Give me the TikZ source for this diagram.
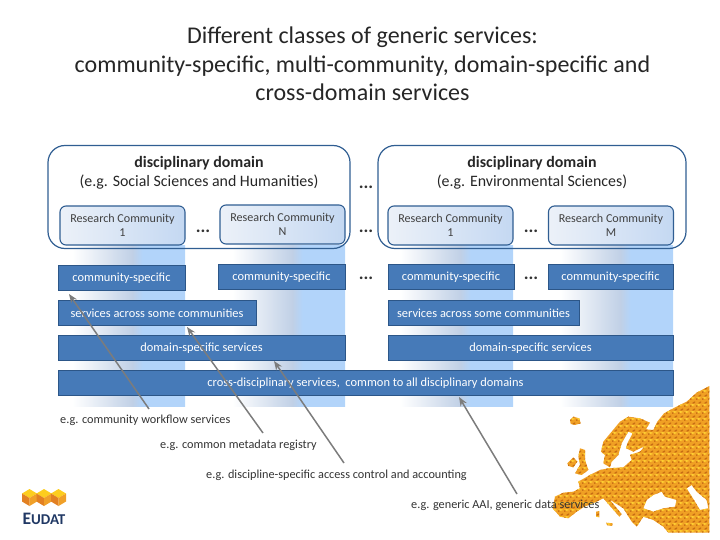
\documentclass[tikz,border=0pt]{standalone}
\usepackage{fontspec}
\setmainfont{Carlito}
\usetikzlibrary{arrows.meta,patterns}
\definecolor{barBlue}{RGB}{70,122,184}
\definecolor{barEdge}{RGB}{44,86,136}
\definecolor{frameBlue}{RGB}{48,94,146}
\definecolor{colGray}{RGB}{192,208,230}
\definecolor{colLight}{RGB}{178,212,250}
\definecolor{rcLeft}{RGB}{236,241,248}
\definecolor{rcRight}{RGB}{196,216,242}
\definecolor{arrowGray}{RGB}{124,124,124}
\definecolor{textGray}{RGB}{64,64,64}
\definecolor{mapOrange}{RGB}{240,160,36}
\definecolor{mapDark}{RGB}{200,110,20}
\definecolor{mapLight}{RGB}{254,205,50}
\definecolor{logoNavy}{RGB}{32,56,100}
\definecolor{cubeTop}{RGB}{253,205,30}
\definecolor{cubeLeft}{RGB}{226,128,34}
\definecolor{cubeRight}{RGB}{240,160,40}
\pgfdeclarehorizontalshading{colfade}{100bp}{color(0bp)=(white); color(30bp)=(white);
  color(54bp)=(colGray); color(58bp)=(colLight); color(100bp)=(colLight)}
\pgfdeclarepatternformonly{cubeshade}{\pgfqpoint{0pt}{0pt}}{\pgfqpoint{6pt}{7pt}}{\pgfqpoint{6pt}{7pt}}{
  \pgfpathmoveto{\pgfqpoint{0pt}{0pt}}\pgfpathlineto{\pgfqpoint{3pt}{1.2pt}}
  \pgfpathlineto{\pgfqpoint{3pt}{3pt}}\pgfpathlineto{\pgfqpoint{0pt}{1.8pt}}\pgfpathclose
  \pgfpathmoveto{\pgfqpoint{3pt}{3.5pt}}\pgfpathlineto{\pgfqpoint{6pt}{4.7pt}}
  \pgfpathlineto{\pgfqpoint{6pt}{6.5pt}}\pgfpathlineto{\pgfqpoint{3pt}{5.3pt}}\pgfpathclose
  \pgfusepath{fill}}
\pgfdeclarepatternformonly{cubelit}{\pgfqpoint{0pt}{0pt}}{\pgfqpoint{6pt}{7pt}}{\pgfqpoint{6pt}{7pt}}{
  \pgfpathmoveto{\pgfqpoint{3pt}{1.2pt}}\pgfpathlineto{\pgfqpoint{6pt}{2.4pt}}
  \pgfpathlineto{\pgfqpoint{3pt}{3.4pt}}\pgfpathlineto{\pgfqpoint{0pt}{2.4pt}}\pgfpathclose
  \pgfusepath{fill}}

\begin{document}
\begin{tikzpicture}[
  x=1pt, y=-1pt,
  titletext/.style={align=center, text=black!85, font=\fontsize{24}{28.5}\selectfont},
  domainbox/.style={rounded corners=17pt, draw=frameBlue, line width=1.2pt, fill=none, inner sep=0pt},
  domaintext/.style={align=center, text=black!85, font=\fontsize{15.9}{18.5}\selectfont},
  rcbox/.style={rounded corners=6pt, draw=frameBlue, line width=1.1pt, left color=rcLeft, right color=rcRight,
                minimum width=125pt, minimum height=39pt, inner sep=0pt, align=center, text=textGray,
                font=\fontsize{12.1}{13.5}\selectfont},
  barnode/.style={draw=barEdge, line width=0.9pt, fill=barBlue, minimum height=25.5pt, inner sep=0pt,
                  text=white, font=\fontsize{12.4}{14}\selectfont},
  dotsnode/.style={inner sep=0pt, text=black!80, font=\fontsize{18}{18}\bfseries\selectfont},
  notetext/.style={inner sep=0pt, anchor=west, text=black!80, font=\fontsize{12.25}{14}\selectfont},
  pointer/.style={draw=arrowGray, line width=1.5pt, -{Stealth[length=9pt,width=7pt]}},
  mapland/.style={even odd rule, fill=mapOrange, postaction={pattern=cubeshade, pattern color=mapDark},
                  postaction={pattern=cubelit, pattern color=mapLight}},
]
\useasboundingbox (0,0) rectangle (720,540);

\def\colW{125}
\def\colH{161}

% ---------- title ----------
\node[titletext] (title) at (362.5,64) {Different classes of generic services:\\
  community-specific, multi-community, domain-specific and\\ cross-domain services};

% ---------- columns behind the bars ----------
\foreach \colX in {60,220,388,548}
  \shade[shading=colfade] (\colX,245) rectangle ++(\colW,\colH);

% ---------- map ----------
\begin{scope}[shift={(540,380)}, x=0.3333pt, y=-0.3333pt]
  \path[mapland]
    (508,18) -- (470,38) -- (440,65) -- (400,85) -- (372,100) -- (352,125) -- (340,150) -- (318,148)
    -- (330,128) -- (300,115) -- (265,110) -- (240,125) -- (215,155) -- (190,185) -- (183,215) -- (195,225)
    -- (190,250) -- (210,262) -- (215,245) -- (235,225) -- (245,190) -- (265,155) -- (278,160) -- (262,190)
    -- (258,205) -- (280,215) -- (315,198) -- (300,215) -- (270,225) -- (275,240) -- (250,262) -- (205,265)
    -- (180,270) -- (150,285) -- (115,305) -- (120,325) -- (100,335) -- (70,338) -- (45,350) -- (38,385)
    -- (60,410) -- (85,415) -- (110,395) -- (130,382) -- (170,365) -- (190,355) -- (205,372) -- (238,410)
    -- (245,402) -- (208,358) -- (250,385) -- (275,425) -- (290,440) -- (300,425) -- (310,410) -- (340,420)
    -- (370,440) -- (385,458) -- (508,458) -- cycle
    (310,385) -- (320,360) -- (340,345) -- (365,335) -- (375,350) -- (410,360) -- (405,380) -- (370,385)
    -- (340,395) -- cycle
    (440,325) -- (455,315) -- (470,335) -- (500,360) -- (505,385) -- (480,390) -- (465,365) -- cycle
    (90,120) -- (100,110) -- (118,115) -- (122,130) -- (105,135) -- (92,132) -- cycle
    (120,205) -- (135,210) -- (135,240) -- (145,270) -- (125,285) -- (105,280) -- (120,255) -- (115,230) -- cycle
    (82,250) -- (100,232) -- (112,245) -- (100,262) -- (85,258) -- cycle
    (168,395) -- (178,393) -- (178,412) -- (168,410) -- cycle
    (198,428) -- (218,430) -- (216,438) -- (202,436) -- cycle;
\end{scope}

% ---------- disciplinary domains ----------
\node[domainbox, minimum width=302pt, minimum height=103pt] (domA) at (199,197) {};
\node[domainbox, minimum width=308pt, minimum height=103pt] (domB) at (532,197) {};
\node[domaintext] (domAtext) at (199,173) {\textbf{disciplinary domain}\\(e.g. Social Sciences and Humanities)};
\node[domaintext] (domBtext) at (532,173) {\textbf{disciplinary domain}\\(e.g. Environmental Sciences)};

% ---------- research communities ----------
\node[rcbox] (rcA) at (122.5,225.5) {Research Community\\1};
\node[rcbox] (rcN) at (282.5,224.5) {Research Community\\N};
\node[rcbox] (rcB) at (450.5,225.5) {Research Community\\1};
\node[rcbox] (rcM) at (611,225.5) {Research Community\\M};

% ---------- service bars ----------
\node[barnode, minimum width=127pt] (csA) at (121.5,278) {community-specific};
\node[barnode, minimum width=127pt] (csN) at (281.5,277) {community-specific};
\node[barnode, minimum width=126pt] (csB) at (451,277) {community-specific};
\node[barnode, minimum width=125pt] (csM) at (610.5,277) {community-specific};
\node[barnode, minimum width=198pt] (acrossA) at (157,313) {services across some communities};
\node[barnode, minimum width=191pt] (acrossB) at (483.5,313) {services across some communities};
\node[barnode, minimum width=287pt] (domainA) at (201.5,348) {domain-specific services};
\node[barnode, minimum width=285pt] (domainB) at (530.5,348) {domain-specific services};
\node[barnode, minimum width=615pt] (cross) at (365.5,383) {cross-disciplinary services,\ \ common to all disciplinary domains};

% ---------- dots ----------
\node[dotsnode] (dotsA) at (366,187) {...};
\node[dotsnode] (dotsB) at (366,231) {...};
\node[dotsnode] (dotsC) at (203,231) {...};
\node[dotsnode] (dotsD) at (531,231) {...};
\node[dotsnode] (dotsE) at (366,278) {...};
\node[dotsnode] (dotsF) at (531,278) {...};

% ---------- notes ----------
\node[notetext] (noteWorkflow) at (60,420) {e.g. community workflow services};
\node[notetext] (noteRegistry) at (160,445) {e.g. common metadata registry};
\node[notetext] (noteAccess) at (206,475) {e.g. discipline-specific access control and accounting};
\node[notetext] (noteAai) at (411,505) {e.g. generic AAI, generic data services};

% ---------- pointers ----------
\coordinate (tailWorkflow) at (149,409);
\coordinate (tipWorkflow) at (69,294);
\coordinate (tailRegistry) at (263,433);
\coordinate (tipRegistry) at (187,327);
\coordinate (tailAccess) at (344,463);
\coordinate (tipAccess) at (274,361);
\coordinate (tailAai) at (517,494);
\coordinate (tipAai) at (459,397);
\draw[pointer] (tailWorkflow) -- (tipWorkflow);
\draw[pointer] (tailRegistry) -- (tipRegistry);
\draw[pointer] (tailAccess) -- (tipAccess);
\draw[pointer] (tailAai) -- (tipAai);

% ---------- logo ----------
\foreach \cubeX in {29.5,44,58.5} {
  \fill[cubeTop] (\cubeX,489) -- ++(7.5,4.5) -- ++(-7.5,4.5) -- ++(-7.5,-4.5) -- cycle;
  \fill[cubeLeft] (\cubeX-7.5,493.5) -- ++(7.5,4.5) -- ++(0,8) -- ++(-7.5,-4.5) -- cycle;
  \fill[cubeRight] (\cubeX+7.5,493.5) -- ++(-7.5,4.5) -- ++(0,8) -- ++(7.5,-4.5) -- cycle;
}
\node[inner sep=0pt, text=logoNavy, font=\bfseries] (logo) at (44,518.5)
  {\fontsize{17.5}{18}\selectfont E\fontsize{15}{18}\selectfont UDAT};

\end{tikzpicture}
\end{document}
